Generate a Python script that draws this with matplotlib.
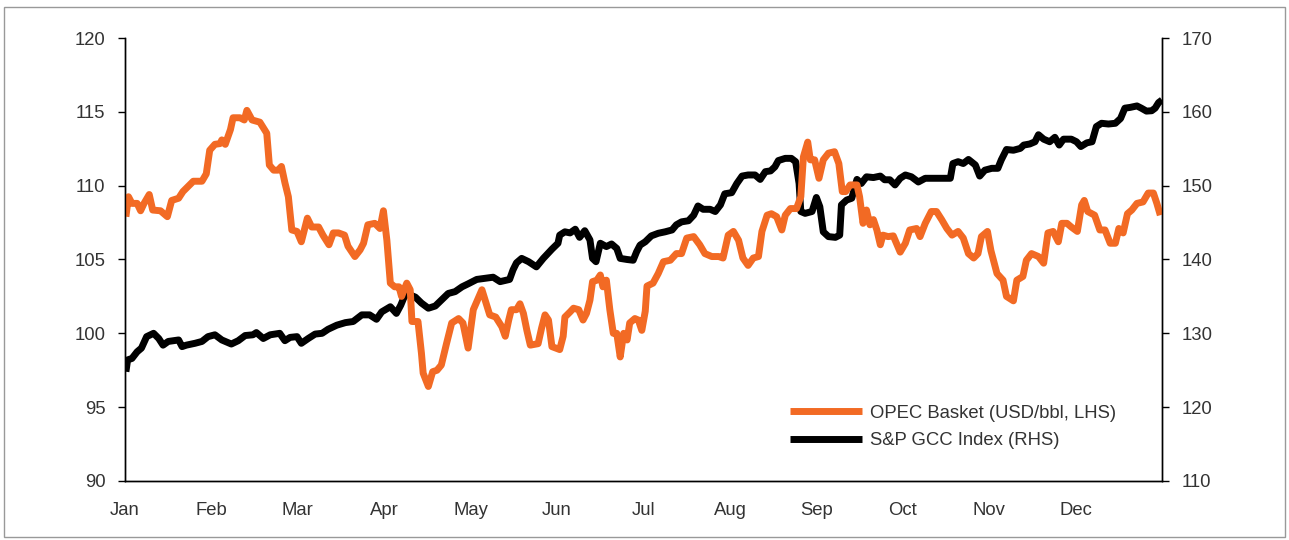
import matplotlib
matplotlib.use("Agg")
import matplotlib.pyplot as plt
from matplotlib.patches import Rectangle

# x positions in fractional months (0 = start of Jan, 12 = end of Dec)
opec_x = [0.01, 0.04, 0.08, 0.14, 0.18, 0.22, 0.28, 0.32, 0.41, 0.45, 0.49, 0.54, 0.62, 0.67, 0.79, 0.89,
          0.94, 0.98, 1.04, 1.10, 1.12, 1.16, 1.22, 1.25, 1.33, 1.38, 1.41, 1.47, 1.56, 1.64, 1.67, 1.72,
          1.77, 1.81, 1.85, 1.89, 1.93, 1.99, 2.04, 2.11, 2.16, 2.24, 2.29, 2.36, 2.41, 2.47, 2.54, 2.58,
          2.66, 2.72, 2.76, 2.81, 2.89, 2.95, 2.99, 3.03, 3.07, 3.12, 3.17, 3.20, 3.26, 3.30, 3.32, 3.39,
          3.43, 3.45, 3.51, 3.56, 3.61, 3.66, 3.72, 3.78, 3.86, 3.91, 3.97, 4.03, 4.13, 4.19, 4.22, 4.29,
          4.36, 4.40, 4.44, 4.47, 4.53, 4.57, 4.61, 4.65, 4.69, 4.78, 4.82, 4.86, 4.90, 4.94, 5.03, 5.07,
          5.09, 5.15, 5.19, 5.25, 5.30, 5.34, 5.38, 5.41, 5.46, 5.50, 5.53, 5.57, 5.61, 5.65, 5.69, 5.73,
          5.77, 5.81, 5.84, 5.90, 5.94, 5.98, 6.02, 6.04, 6.11, 6.17, 6.23, 6.31, 6.38, 6.44, 6.50, 6.58,
          6.65, 6.71, 6.79, 6.87, 6.92, 6.98, 7.04, 7.10, 7.15, 7.21, 7.27, 7.33, 7.37, 7.43, 7.48, 7.54,
          7.60, 7.64, 7.70, 7.77, 7.82, 7.85, 7.90, 7.93, 7.98, 8.03, 8.08, 8.14, 8.21, 8.26, 8.30, 8.34,
          8.39, 8.47, 8.50, 8.54, 8.58, 8.62, 8.66, 8.70, 8.74, 8.77, 8.83, 8.89, 8.97, 9.03, 9.08, 9.16,
          9.20, 9.26, 9.33, 9.39, 9.45, 9.51, 9.57, 9.64, 9.70, 9.76, 9.82, 9.87, 9.91, 9.98, 10.02, 10.07,
          10.09, 10.16, 10.20, 10.28, 10.32, 10.39, 10.43, 10.49, 10.57, 10.63, 10.68, 10.74, 10.80, 10.84,
          10.90, 10.95, 11.02, 11.07, 11.10, 11.14, 11.22, 11.28, 11.34, 11.40, 11.46, 11.50, 11.55, 11.60,
          11.65, 11.71, 11.78, 11.84, 11.90, 11.94, 11.98]
opec_basket = [107.9, 109.25, 108.8, 108.8, 108.3, 108.8, 109.4, 108.35, 108.3, 108.1, 107.9, 109.0, 109.15,
               109.6, 110.3, 110.3, 110.8, 112.4, 112.8, 112.85, 113.1, 112.8, 113.8, 114.6, 114.6, 114.45,
               115.1, 114.45, 114.3, 113.55, 111.4, 111.05, 111.05, 111.3, 110.2, 109.25, 107.0, 106.9, 106.2,
               107.8, 107.2, 107.2, 106.65, 106.0, 106.8, 106.8, 106.65, 105.9, 105.2, 105.65, 106.1, 107.35,
               107.45, 107.1, 108.3, 106.3, 103.4, 103.15, 103.15, 102.5, 103.4, 102.95, 100.8, 100.8, 98.65,
               97.3, 96.4, 97.4, 97.5, 97.85, 99.3, 100.7, 101.0, 100.7, 99.0, 101.6, 102.95, 101.8, 101.25,
               101.1, 100.45, 99.8, 100.9, 101.6, 101.6, 102.0, 101.35, 100.2, 99.2, 99.3, 100.35, 101.25,
               100.9, 99.1, 98.9, 99.8, 101.1, 101.45, 101.7, 101.6, 100.9, 101.35, 102.25, 103.5, 103.6,
               103.95, 103.15, 103.6, 101.6, 100.0, 100.0, 98.4, 100.0, 99.55, 100.7, 101.0, 100.9, 100.2,
               101.5, 103.2, 103.4, 104.05, 104.85, 104.95, 105.4, 105.4, 106.45, 106.55, 106.0, 105.4, 105.2,
               105.2, 105.1, 106.65, 106.9, 106.3, 105.1, 104.6, 105.1, 105.2, 106.9, 108.0, 108.1, 107.9,
               107.0, 108.0, 108.45, 108.45, 109.25, 111.95, 112.95, 111.75, 111.75, 110.5, 111.75, 112.2,
               112.3, 111.5, 109.6, 109.6, 110.05, 110.05, 109.25, 107.45, 108.35, 107.35, 107.7, 107.0, 106.0,
               106.65, 106.55, 106.6, 105.5, 106.1, 107.0, 107.1, 106.55, 107.45, 108.25, 108.25, 107.7, 107.1,
               106.65, 106.9, 106.45, 105.4, 105.1, 105.4, 106.55, 106.9, 105.6, 104.5, 104.05, 103.6, 102.5,
               102.2, 103.6, 103.85, 104.95, 105.4, 105.2, 104.75, 106.8, 106.9, 106.2, 107.45, 107.45, 107.2,
               106.9, 108.7, 109.0, 108.25, 108.0, 107.0, 107.0, 106.1, 106.1, 107.1, 106.8, 108.1, 108.35,
               108.8, 108.9, 109.5, 109.5, 108.8, 108.0]

gcc_x = [0.01, 0.03, 0.08, 0.14, 0.19, 0.25, 0.33, 0.39, 0.44, 0.50, 0.62, 0.66, 0.71, 0.81, 0.89, 0.96,
         1.04, 1.12, 1.23, 1.31, 1.39, 1.48, 1.52, 1.60, 1.68, 1.79, 1.85, 1.91, 1.99, 2.04, 2.12, 2.20,
         2.28, 2.35, 2.45, 2.55, 2.64, 2.74, 2.83, 2.91, 2.97, 3.07, 3.14, 3.19, 3.24, 3.30, 3.36, 3.43,
         3.51, 3.59, 3.66, 3.74, 3.82, 3.90, 3.97, 4.07, 4.17, 4.26, 4.34, 4.45, 4.49, 4.53, 4.59, 4.67,
         4.76, 4.84, 4.94, 5.01, 5.03, 5.09, 5.15, 5.21, 5.26, 5.32, 5.38, 5.41, 5.45, 5.50, 5.57, 5.63,
         5.69, 5.73, 5.81, 5.88, 5.92, 5.96, 6.02, 6.09, 6.17, 6.25, 6.33, 6.38, 6.44, 6.52, 6.58, 6.63,
         6.69, 6.77, 6.83, 6.89, 6.94, 7.02, 7.08, 7.14, 7.21, 7.29, 7.35, 7.41, 7.47, 7.52, 7.56, 7.64,
         7.71, 7.76, 7.80, 7.82, 7.87, 7.95, 8.00, 8.04, 8.08, 8.14, 8.22, 8.27, 8.29, 8.35, 8.41, 8.44,
         8.47, 8.52, 8.58, 8.66, 8.74, 8.79, 8.85, 8.91, 8.97, 9.03, 9.10, 9.18, 9.26, 9.37, 9.55, 9.58,
         9.64, 9.70, 9.76, 9.84, 9.89, 9.95, 10.03, 10.10, 10.14, 10.20, 10.28, 10.36, 10.40, 10.47, 10.53,
         10.57, 10.63, 10.70, 10.76, 10.81, 10.86, 10.95, 11.01, 11.06, 11.13, 11.19, 11.24, 11.30, 11.38,
         11.46, 11.52, 11.57, 11.63, 11.71, 11.76, 11.82, 11.88, 11.92, 11.96, 12.00]
sp_gcc_index = [124.8, 126.4, 126.6, 127.5, 128.0, 129.55, 130.0, 129.3, 128.4, 128.9, 129.1, 128.2, 128.4,
                128.65, 128.9, 129.55, 129.8, 129.1, 128.55, 129.0, 129.7, 129.8, 130.1, 129.3, 129.8, 130.0,
                129.0, 129.45, 129.55, 128.65, 129.3, 129.9, 130.0, 130.55, 131.1, 131.45, 131.6, 132.5, 132.5,
                131.9, 132.9, 133.6, 132.7, 133.8, 135.2, 135.2, 134.9, 134.1, 133.4, 133.7, 134.5, 135.4,
                135.65, 136.3, 136.7, 137.3, 137.45, 137.6, 137.0, 137.3, 138.6, 139.55, 140.15, 139.7, 139.0,
                140.15, 141.4, 142.2, 143.3, 143.75, 143.6, 144.1, 143.0, 143.9, 142.65, 140.15, 139.7, 142.2,
                141.75, 142.1, 141.5, 140.15, 140.0, 139.9, 141.05, 141.95, 142.4, 143.2, 143.55, 143.75, 144.0,
                144.7, 145.1, 145.25, 146.0, 147.25, 146.8, 146.8, 146.5, 147.4, 148.9, 149.05, 150.3, 151.3,
                151.45, 151.45, 150.85, 151.9, 152.0, 152.55, 153.4, 153.7, 153.7, 153.25, 150.3, 146.5, 146.25,
                146.5, 148.4, 147.15, 143.75, 143.1, 143.0, 143.3, 147.4, 148.05, 148.3, 149.65, 150.85, 150.3,
                151.2, 151.1, 151.3, 150.8, 150.8, 150.1, 151.0, 151.45, 151.2, 150.5, 151.0, 151.0, 151.0,
                153.0, 153.25, 153.0, 153.55, 152.8, 151.3, 152.1, 152.35, 152.35, 153.5, 154.9, 154.8, 155.05,
                155.5, 155.65, 155.95, 156.9, 156.3, 155.95, 156.55, 155.5, 156.3, 156.3, 155.95, 155.3, 155.8,
                155.95, 158.0, 158.45, 158.35, 158.45, 159.1, 160.5, 160.6, 160.8, 160.5, 160.1, 160.15, 160.5,
                161.25, 161.6]

month_labels = ["Jan", "Feb", "Mar", "Apr", "May", "Jun", "Jul", "Aug", "Sep", "Oct", "Nov", "Dec"]
left_ticks = [90, 95, 100, 105, 110, 115, 120]
right_ticks = [110, 120, 130, 140, 150, 160, 170]

plt.rcParams['font.family'] = ['Liberation Sans', 'DejaVu Sans']
TEXT = '#333333'
ORANGE = '#F26A24'
FS = 13.3

fig = plt.figure(figsize=(12.89, 5.40), dpi=100)
ax1 = fig.add_axes([0.097, 0.1093, 0.8045, 0.8203])
ax2 = ax1.twinx()

l2, = ax2.plot(gcc_x, sp_gcc_index, color='black', lw=5.0, solid_joinstyle='round',
               solid_capstyle='butt', label='S&P GCC Index (RHS)')
l1, = ax1.plot(opec_x, opec_basket, color=ORANGE, lw=5.0, solid_joinstyle='round',
               solid_capstyle='butt', label='OPEC Basket (USD/bbl, LHS)')
ax1.set_zorder(ax2.get_zorder() + 1)
ax1.patch.set_visible(False)

ax1.set_xlim(0, 12)
ax1.set_ylim(90, 120)
ax2.set_ylim(110, 170)
ax1.set_yticks(left_ticks)
ax2.set_yticks(right_ticks)
ax1.set_xticks(range(12))
ax1.set_xticklabels(month_labels)

for ax in (ax1, ax2):
    ax.spines['top'].set_visible(False)
    for s in ('left', 'right', 'bottom'):
        ax.spines[s].set_linewidth(1.0)
        ax.spines[s].set_color('black')

ax1.tick_params(axis='y', direction='out', length=5, width=1, pad=9, labelsize=FS, labelcolor=TEXT)
ax2.tick_params(axis='y', direction='out', length=5, width=1, pad=9, labelsize=FS, labelcolor=TEXT)
ax1.tick_params(axis='x', length=0, pad=15, labelsize=FS, labelcolor=TEXT)

leg = ax1.legend(handles=[l1, l2], loc='lower left', bbox_to_anchor=(0.6345, 0.055),
                 frameon=False, fontsize=FS, handlelength=3.85, handletextpad=0.45,
                 labelspacing=0.58, borderaxespad=0)
for t in leg.get_texts():
    t.set_color(TEXT)

fig.patches.append(Rectangle((4 / 1289, 3 / 540), 1281 / 1289, 530 / 540, transform=fig.transFigure,
                             fill=False, edgecolor='#999999', lw=1.0))

fig.savefig('out.png', dpi=100)
